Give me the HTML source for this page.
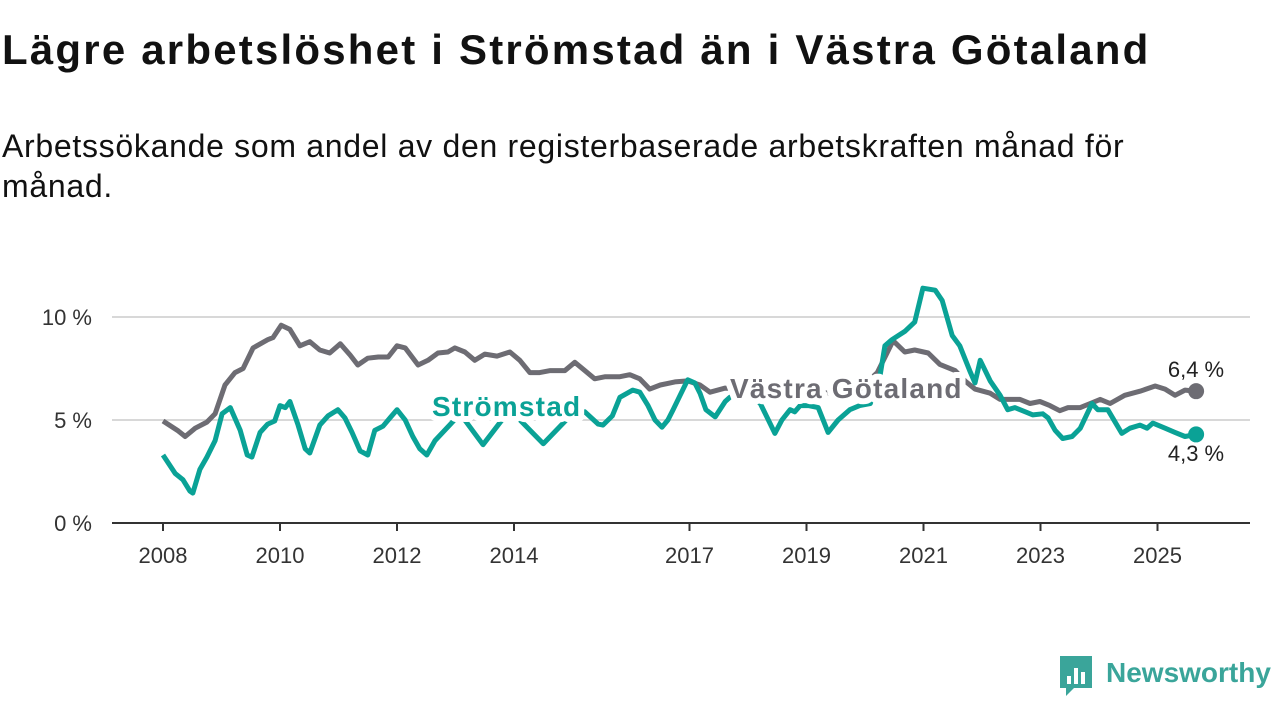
<!DOCTYPE html>
<html><head><meta charset="utf-8"><style>
body{margin:0;background:#fff;width:1280px;height:720px;overflow:hidden;font-family:"Liberation Sans",sans-serif;}
h1{position:absolute;left:2px;top:26px;margin:0;font-size:42px;letter-spacing:2.2px;font-weight:bold;color:#111;white-space:nowrap;}
p{position:absolute;left:2px;top:126px;margin:0;font-size:32px;letter-spacing:0.7px;line-height:40px;color:#111;width:1180px;}
svg{position:absolute;left:0;top:0;}
</style></head><body>
<h1>Lägre arbetslöshet i Strömstad än i Västra Götaland</h1>
<p>Arbetssökande som andel av den registerbaserade arbetskraften månad för månad.</p>
<svg id="chart" width="1280" height="720"></svg>
<script>
const yTicks=[0,5,10];
const yTickLabels=["0 %","5 %","10 %"];
const xTicks=[2008,2010,2012,2014,2017,2019,2021,2023,2025];
const vgYears=[2008.0,2008.26,2008.38,2008.55,2008.75,2008.89,2009.06,2009.23,2009.37,2009.54,2009.79,2009.88,2010.02,2010.17,2010.34,2010.51,2010.68,2010.85,2011.03,2011.2,2011.33,2011.5,2011.68,2011.85,2012.0,2012.14,2012.36,2012.53,2012.7,2012.87,2012.99,2013.16,2013.33,2013.5,2013.71,2013.93,2014.1,2014.27,2014.44,2014.62,2014.87,2015.04,2015.21,2015.38,2015.56,2015.81,2015.98,2016.15,2016.32,2016.5,2016.75,2016.97,2017.18,2017.35,2017.61,2018.55,2019.4,2019.91,2020.21,2020.48,2020.68,2020.85,2021.08,2021.28,2021.54,2021.71,2021.88,2022.14,2022.31,2022.65,2022.82,2022.99,2023.16,2023.33,2023.47,2023.68,2023.85,2024.02,2024.19,2024.44,2024.7,2024.96,2025.13,2025.3,2025.47,2025.66];
const vgVals=[4.95,4.47,4.2,4.6,4.9,5.3,6.7,7.3,7.5,8.5,8.9,9.0,9.6,9.4,8.6,8.8,8.4,8.25,8.7,8.15,7.67,8.0,8.06,8.06,8.6,8.5,7.67,7.9,8.25,8.3,8.5,8.3,7.9,8.2,8.1,8.3,7.9,7.3,7.3,7.4,7.4,7.8,7.4,7.0,7.1,7.1,7.2,7.0,6.5,6.7,6.85,6.9,6.7,6.35,6.55,6.5,6.3,6.5,7.3,8.85,8.3,8.4,8.25,7.7,7.4,6.9,6.5,6.3,6.0,6.0,5.8,5.9,5.7,5.45,5.6,5.6,5.8,6.0,5.8,6.2,6.4,6.65,6.5,6.2,6.45,6.4];
const stYears=[2008.0,2008.21,2008.34,2008.46,2008.51,2008.63,2008.75,2008.89,2009.01,2009.15,2009.32,2009.44,2009.52,2009.66,2009.79,2009.91,2010.0,2010.09,2010.17,2010.31,2010.43,2010.51,2010.68,2010.82,2010.99,2011.11,2011.23,2011.37,2011.5,2011.62,2011.76,2011.88,2012.0,2012.14,2012.27,2012.39,2012.51,2012.65,2013.08,2013.47,2013.93,2014.5,2014.96,2015.21,2015.44,2015.52,2015.68,2015.81,2016.03,2016.15,2016.29,2016.41,2016.53,2016.63,2016.72,2016.84,2016.97,2017.09,2017.18,2017.28,2017.44,2017.61,2017.69,2017.95,2018.21,2018.46,2018.58,2018.72,2018.8,2018.89,2019.03,2019.2,2019.37,2019.54,2019.74,2019.91,2020.09,2020.26,2020.34,2020.46,2020.68,2020.85,2020.99,2021.2,2021.32,2021.49,2021.62,2021.79,2021.88,2021.97,2022.14,2022.31,2022.44,2022.56,2022.74,2022.87,2023.04,2023.13,2023.25,2023.38,2023.54,2023.68,2023.88,2023.98,2024.15,2024.39,2024.53,2024.7,2024.82,2024.92,2025.13,2025.3,2025.47,2025.66];
const stVals=[3.3,2.4,2.1,1.55,1.45,2.6,3.2,4.0,5.3,5.6,4.5,3.3,3.2,4.4,4.8,4.95,5.7,5.6,5.9,4.75,3.6,3.4,4.75,5.2,5.5,5.1,4.4,3.5,3.3,4.5,4.7,5.1,5.5,5.0,4.2,3.6,3.3,4.0,5.3,3.8,5.5,3.85,5.2,5.4,4.8,4.75,5.2,6.1,6.45,6.35,5.7,5.0,4.65,5.0,5.5,6.2,6.95,6.8,6.3,5.5,5.15,5.9,6.1,6.5,5.8,4.35,5.0,5.5,5.4,5.7,5.7,5.6,4.4,5.0,5.5,5.7,5.8,7.2,8.6,8.9,9.3,9.75,11.4,11.3,10.8,9.1,8.6,7.4,6.8,7.9,6.9,6.2,5.5,5.6,5.4,5.25,5.3,5.1,4.5,4.1,4.2,4.6,5.8,5.5,5.5,4.35,4.6,4.75,4.6,4.85,4.6,4.4,4.2,4.3];
const NS="http://www.w3.org/2000/svg";
const svg=document.getElementById('chart');
const X=y=>163+(y-2008)*58.5;
const Y=v=>523-v*20.6;
function mk(t,a,p){const e=document.createElementNS(NS,t);for(const k in a)e.setAttribute(k,a[k]);(p||svg).appendChild(e);return e;}
yTicks.forEach((t,i)=>{
  if(t>0){const g=mk('line',{x1:112,x2:1250,y1:Y(t),y2:Y(t),stroke:'#d8d8d8','stroke-width':2});
  
  }
  const l=mk('text',{x:92,y:Y(t)+8,'text-anchor':'end','font-size':22,fill:'#333'});
  l.textContent=yTickLabels[i];
  
  
});
const ax=mk('line',{x1:112,x2:1250,y1:523,y2:523,stroke:'#333','stroke-width':2});


xTicks.forEach(t=>{
  const tk=mk('line',{x1:X(t),x2:X(t),y1:523,y2:531,stroke:'#333','stroke-width':2});
  
  
  const l=mk('text',{x:X(t),y:563,'text-anchor':'middle','font-size':22,fill:'#333'});
  l.textContent=t;
  
  
});
function line(ys,vs,c,name){
  const d=ys.map((y,i)=>(i?'L':'M')+X(y).toFixed(1)+','+Y(vs[i]).toFixed(1)).join('');
  const p=mk('path',{d:d,fill:'none',stroke:c,'stroke-width':5,'stroke-linejoin':'round'});
  
  
  const n=ys.length-1;
  const dot=mk('circle',{cx:X(ys[n]),cy:Y(vs[n]),r:8,fill:c});
  
  
}
line(vgYears,vgVals,'#6d6c73','vastra-gotaland-line');
line(stYears,stVals,'#0aa296','stromstad-line');
function lab(x,y,txt,c,name,bold,anchor){
  const t=mk('text',{x:x,y:y,'font-size':bold?28:22,'font-weight':bold?'bold':'normal','letter-spacing':bold?1.2:0,fill:c,stroke:'#fff','stroke-width':bold?12:6,'paint-order':'stroke','stroke-linejoin':'round','text-anchor':anchor||'start'});
  t.textContent=txt;
  
  
}
lab(432,416,'Strömstad','#0aa296','stromstad-label',true);
lab(730,398,'Västra Götaland','#6d6c73','vastra-gotaland-label',true);
lab(1196,377,'6,4 %','#222','vg-end-value',false,'middle');
lab(1196,461,'4,3 %','#222','st-end-value',false,'middle');
const lg=mk('g',{});


mk('path',{d:'M1060,656 h32 v32 h-18 l-8,8 v-8 h-6 z',fill:'#3aa59a'},lg);
mk('rect',{x:1067,y:676,width:4,height:8,fill:'#fff'},lg);
mk('rect',{x:1074,y:668,width:4,height:16,fill:'#fff'},lg);
mk('rect',{x:1081,y:672,width:4,height:12,fill:'#fff'},lg);
const lt=mk('text',{x:1106,y:682,'font-size':28,'font-weight':'bold',fill:'#3aa59a'},lg);
lt.textContent='Newsworthy';
</script>
</body></html>
